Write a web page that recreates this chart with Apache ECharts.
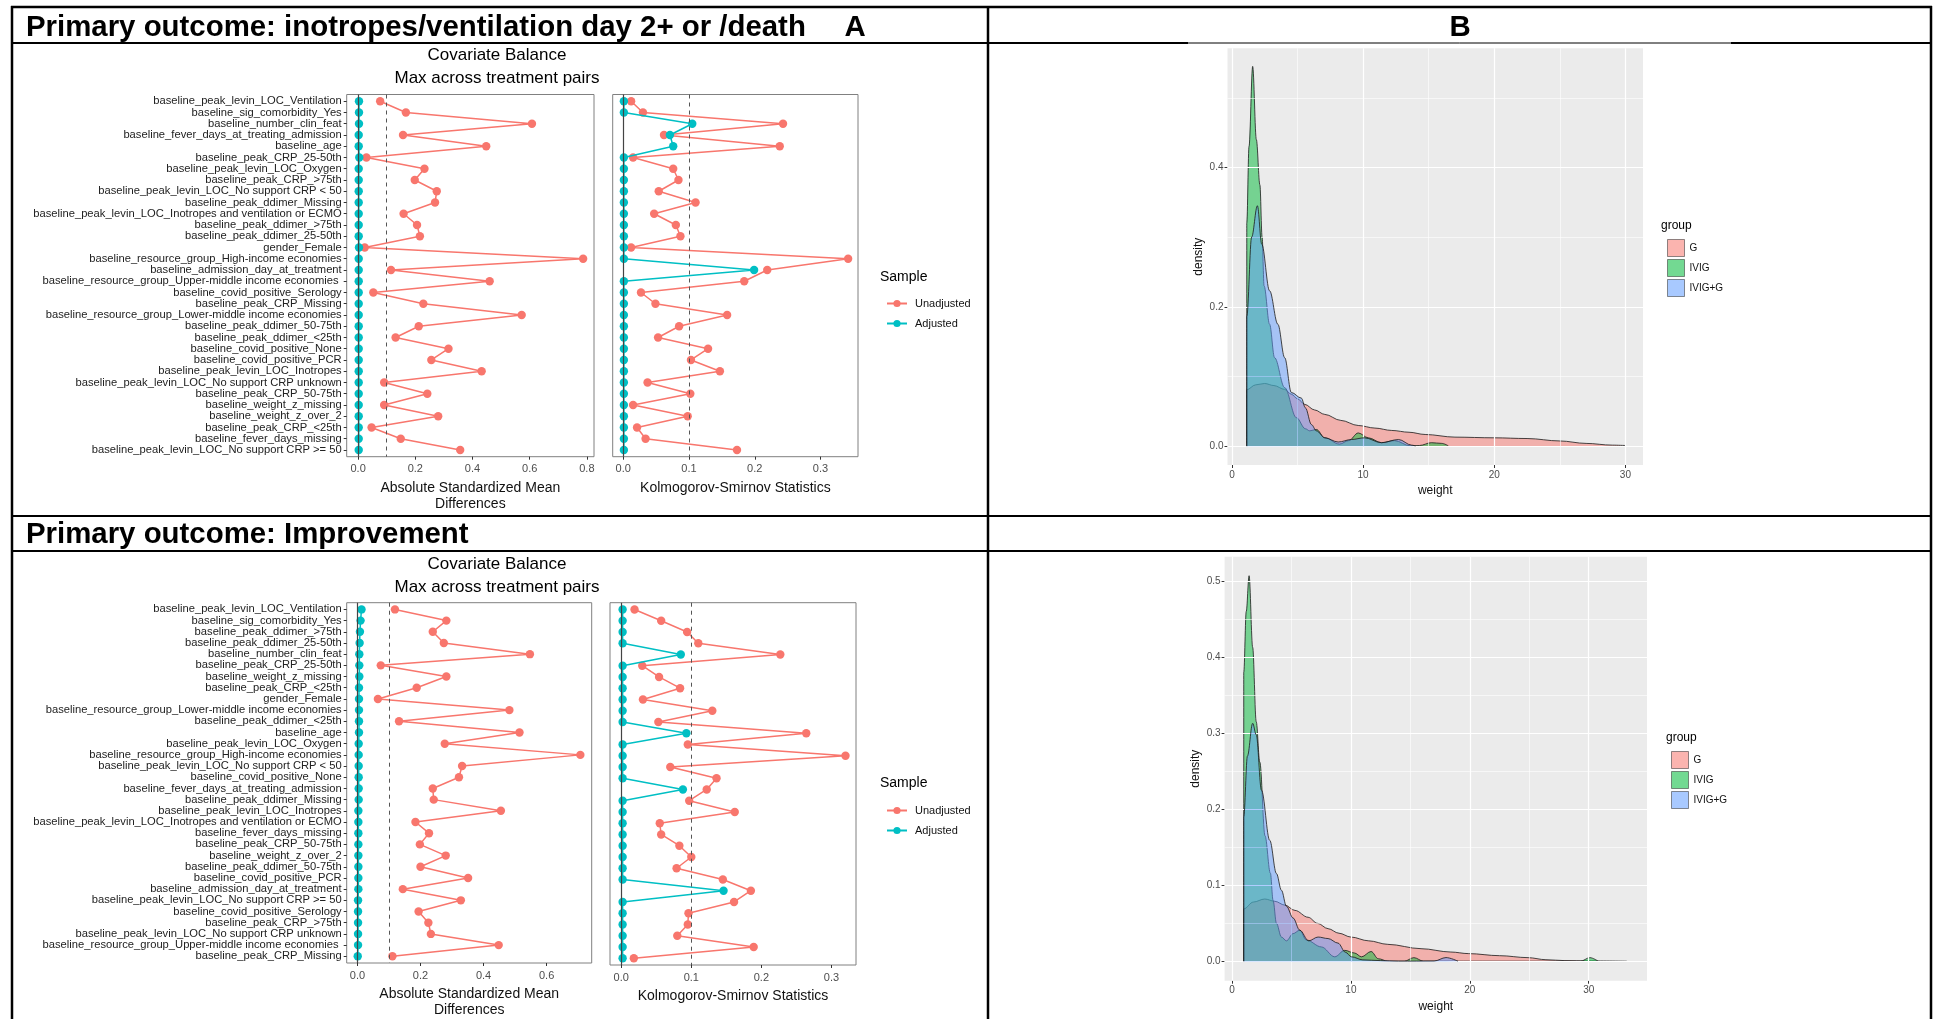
<!DOCTYPE html>
<html>
<head>
<meta charset="utf-8">
<script src="https://cdn.jsdelivr.net/npm/echarts@6/dist/echarts.min.js"></script>
<style>
html,body{margin:0;padding:0;background:#fff;}
#chart{width:1937px;height:1019px;}
</style>
</head>
<body>
<div id="chart"></div>
<script>
// ---------------- DATA ----------------
const labelsTop = [
 'baseline_peak_levin_LOC_Ventilation','baseline_sig_comorbidity_Yes','baseline_number_clin_feat',
 'baseline_fever_days_at_treating_admission','baseline_age','baseline_peak_CRP_25-50th',
 'baseline_peak_levin_LOC_Oxygen','baseline_peak_CRP_>75th','baseline_peak_levin_LOC_No support CRP < 50',
 'baseline_peak_ddimer_Missing','baseline_peak_levin_LOC_Inotropes and ventilation or ECMO',
 'baseline_peak_ddimer_>75th','baseline_peak_ddimer_25-50th','gender_Female',
 'baseline_resource_group_High-income economies','baseline_admission_day_at_treatment',
 'baseline_resource_group_Upper-middle income economies ','baseline_covid_positive_Serology',
 'baseline_peak_CRP_Missing','baseline_resource_group_Lower-middle income economies',
 'baseline_peak_ddimer_50-75th','baseline_peak_ddimer_<25th','baseline_covid_positive_None',
 'baseline_covid_positive_PCR','baseline_peak_levin_LOC_Inotropes','baseline_peak_levin_LOC_No support CRP unknown',
 'baseline_peak_CRP_50-75th','baseline_weight_z_missing','baseline_weight_z_over_2',
 'baseline_peak_CRP_<25th','baseline_fever_days_missing','baseline_peak_levin_LOC_No support CRP >= 50'];
const smdUnadjTop = [0.077,0.167,0.608,0.157,0.448,0.029,0.232,0.198,0.275,0.269,0.159,0.206,0.216,0.023,0.787,0.115,0.460,0.053,0.228,0.572,0.212,0.131,0.316,0.256,0.432,0.091,0.242,0.091,0.280,0.047,0.149,0.357];
const smdAdjTop   = [0.003,0.003,0.003,0.002,0.002,0.004,0.002,0.002,0.002,0.002,0.002,0.002,0.002,0.003,0.002,0.002,0.002,0.002,0.002,0.002,0.002,0.002,0.002,0.002,0.002,0.002,0.002,0.002,0.002,0.002,0.002,0.002];
const ksUnadjTop  = [0.012,0.030,0.243,0.062,0.238,0.015,0.076,0.084,0.054,0.110,0.047,0.080,0.087,0.012,0.342,0.219,0.184,0.027,0.049,0.158,0.085,0.053,0.129,0.103,0.147,0.037,0.102,0.015,0.098,0.021,0.034,0.173];
const ksAdjTop    = [0.001,0.001,0.105,0.071,0.076,0.001,0.001,0.001,0.001,0.001,0.001,0.001,0.001,0.001,0.001,0.199,0.001,0.001,0.001,0.001,0.001,0.001,0.001,0.001,0.001,0.001,0.001,0.001,0.001,0.001,0.001,0.001];

const labelsBot = [
 'baseline_peak_levin_LOC_Ventilation','baseline_sig_comorbidity_Yes','baseline_peak_ddimer_>75th',
 'baseline_peak_ddimer_25-50th','baseline_number_clin_feat','baseline_peak_CRP_25-50th',
 'baseline_weight_z_missing','baseline_peak_CRP_<25th','gender_Female',
 'baseline_resource_group_Lower-middle income economies','baseline_peak_ddimer_<25th','baseline_age',
 'baseline_peak_levin_LOC_Oxygen','baseline_resource_group_High-income economies',
 'baseline_peak_levin_LOC_No support CRP < 50','baseline_covid_positive_None',
 'baseline_fever_days_at_treating_admission','baseline_peak_ddimer_Missing','baseline_peak_levin_LOC_Inotropes',
 'baseline_peak_levin_LOC_Inotropes and ventilation or ECMO','baseline_fever_days_missing',
 'baseline_peak_CRP_50-75th','baseline_weight_z_over_2','baseline_peak_ddimer_50-75th',
 'baseline_covid_positive_PCR','baseline_admission_day_at_treatment','baseline_peak_levin_LOC_No support CRP >= 50',
 'baseline_covid_positive_Serology','baseline_peak_CRP_>75th','baseline_peak_levin_LOC_No support CRP unknown',
 'baseline_resource_group_Upper-middle income economies ','baseline_peak_CRP_Missing'];
const smdUnadjBot = [0.119,0.282,0.239,0.274,0.547,0.074,0.282,0.188,0.065,0.482,0.132,0.514,0.277,0.707,0.332,0.322,0.239,0.242,0.455,0.184,0.227,0.198,0.280,0.200,0.351,0.144,0.328,0.194,0.225,0.233,0.448,0.111];
const smdAdjBot   = [0.013,0.010,0.008,0.007,0.006,0.006,0.006,0.005,0.005,0.005,0.005,0.005,0.004,0.004,0.004,0.004,0.004,0.004,0.003,0.003,0.003,0.003,0.003,0.003,0.003,0.003,0.002,0.002,0.002,0.002,0.002,0.001];
const ksUnadjBot  = [0.019,0.057,0.094,0.110,0.227,0.030,0.054,0.084,0.031,0.130,0.053,0.264,0.095,0.320,0.070,0.136,0.122,0.097,0.162,0.055,0.057,0.083,0.100,0.079,0.145,0.185,0.161,0.096,0.095,0.080,0.189,0.018];
const ksAdjBot    = [0.002,0.002,0.002,0.002,0.085,0.002,0.002,0.002,0.002,0.002,0.002,0.093,0.002,0.002,0.002,0.002,0.088,0.002,0.002,0.002,0.002,0.002,0.002,0.002,0.002,0.146,0.002,0.002,0.002,0.002,0.002,0.002];

const smdTicksTop = [0, 0.2, 0.4, 0.6, 0.8];
const smdTicksBot = [0, 0.2, 0.4, 0.6];
const ksTicks = [0, 0.1, 0.2, 0.3];

// density curves: [weight, density]
const gTop = [[1.13,0],[1.13,0.081],[1.8,0.088],[2.49,0.090],[3.2,0.087],[4.02,0.0815],[4.53,0.0745],[5.0,0.068],[5.55,0.060],[6.3,0.052],[7.08,0.0456],[8.3,0.037],[9.63,0.0297],[10.9,0.026],[12.18,0.0226],[13.5,0.020],[14.73,0.0168],[17,0.013],[20,0.012],[22.5,0.011],[25,0.0075],[27,0.004],[29,0.0015],[30,0.001]];
const ivigTop = [[1.13,0],[1.13,0.32],[1.3,0.43],[1.58,0.545],[1.86,0.44],[2.13,0.375],[2.3,0.30],[2.45,0.23],[2.87,0.175],[3.25,0.127],[4.02,0.084],[4.91,0.041],[5.6,0.025],[5.93,0.022],[6.44,0.024],[7.08,0.012],[8.2,0.003],[8.9,0.008],[9.63,0.019],[10.4,0.012],[11.4,0.005],[12.4,0.008],[13.6,0.0005],[14.3,0.001],[15.2,0.005],[16,0.004],[16.5,0.0005]];
const ivigGTop = [[1.13,0],[1.13,0.186],[1.5,0.30],[1.94,0.345],[2.27,0.29],[2.87,0.223],[3.5,0.175],[4.02,0.127],[4.53,0.077],[5.29,0.069],[5.6,0.055],[6.06,0.031],[6.44,0.022],[7.08,0.012],[8.1,0.006],[9.12,0.0096],[10.1,0.012],[11.4,0.005],[12.7,0.0096],[13.7,0.0015],[14,0.0003]];
const gBot = [[0.99,0],[0.99,0.069],[1.8,0.078],[2.76,0.082],[3.6,0.079],[4.44,0.074],[5.3,0.067],[6.4,0.058],[7.2,0.050],[8.08,0.043],[9,0.037],[10,0.032],[11.5,0.027],[13.1,0.0224],[15.9,0.0167],[18.4,0.0123],[19.9,0.0102],[22.5,0.0075],[24.9,0.0049],[26.4,0.0022],[28,0.001],[30,0.0006],[33.2,0.0002]];
const ivigBot = [[0.99,0],[0.99,0.38],[1.2,0.46],[1.44,0.507],[1.74,0.413],[2.04,0.315],[2.34,0.262],[2.78,0.165],[3.23,0.116],[3.46,0.080],[3.74,0.050],[4.16,0.032],[4.58,0.027],[5.14,0.0365],[5.7,0.041],[6.26,0.028],[7.52,0.019],[8.64,0.006],[9.48,0.0145],[10.3,0.011],[10.9,0.006],[11.7,0.013],[12.3,0.0035],[13.1,0.0003],[14.5,0.0003],[15.3,0.0049],[16.1,0.0003],[29.3,0.0002],[30.1,0.0049],[30.8,0.0002]];
const ivigGBot = [[0.99,0],[0.99,0.19],[1.3,0.27],[1.74,0.313],[2.04,0.298],[2.48,0.225],[3.18,0.159],[3.74,0.1155],[4.16,0.0935],[4.58,0.0725],[5.14,0.057],[5.7,0.041],[6.45,0.027],[7.24,0.032],[8.08,0.030],[8.92,0.024],[9.54,0.012],[10.05,0.006],[11,0.002],[12.5,0.001],[14,0.0003],[17,0.0005],[18,0.005],[19,0.0003]];

const densXMajor = [0, 10, 20, 30];
const densXMinor = [5, 15, 25];
const densTopYMajor = [0, 0.2, 0.4];
const densTopYMinor = [0.1, 0.3, 0.5];
const densBotYMajor = [0, 0.1, 0.2, 0.3, 0.4, 0.5];
const densBotYMinor = [0.05, 0.15, 0.25, 0.35, 0.45];

const groups = ['G', 'IVIG', 'IVIG+G'];
const samples = ['Unadjusted', 'Adjusted'];

// ---------------- STYLE ----------------
const FONT = '"Liberation Sans", Arial, Helvetica, sans-serif';
const RED = '#F8766D', CYAN = '#00BFC4';
const GCOL = ['#F8766D', '#00BA38', '#619CFF'];

const grids = [
  {left:346.7, top:94.5, width:247.3, height:362.2},
  {left:612.7, top:94.5, width:245.3, height:362.2},
  {left:346.7, top:602.7, width:245, height:362.3},
  {left:610, top:602.7, width:246, height:362.3},
  {left:1227.5, top:48.3, width:415.5, height:416.7, show:true, backgroundColor:'#EBEBEB', borderWidth:0},
  {left:1224.6, top:556.7, width:422.4, height:424, show:true, backgroundColor:'#EBEBEB', borderWidth:0}
];
grids.slice(0,4).forEach(g => { g.show = true; g.borderColor = '#808080'; g.borderWidth = 1; g.backgroundColor = '#fff'; });

const xAxes = [], yAxes = [], series = [];

function covPanel(gi, labels, unadj, adj, xmin, xmax, ticks, showY, name) {
  const idx = labels.map((_, i) => i);
  xAxes.push({
    gridIndex: gi, type: 'value', min: xmin, max: xmax, position: 'bottom',
    axisLine: {show: false, onZero: false}, splitLine: {show: false},
    axisTick: {show: true, length: 3, lineStyle: {color: '#333'}, customValues: ticks},
    axisLabel: {customValues: ticks, formatter: v => v.toFixed(1), fontSize: 11, color: '#4D4D4D', margin: 7, fontFamily: FONT},
    name: name, nameLocation: 'middle', nameGap: 23,
    nameTextStyle: {fontSize: 14, color: '#111', lineHeight: 16, fontFamily: FONT}
  });
  yAxes.push({
    gridIndex: gi, type: 'value', inverse: true, min: -0.6, max: labels.length - 0.4, position: 'left',
    axisLine: {show: false, onZero: false}, splitLine: {show: false},
    axisTick: {show: showY, length: 3, lineStyle: {color: '#333'}, customValues: idx},
    axisLabel: {show: showY, customValues: idx, formatter: v => labels[Math.round(v)], fontSize: 11.2, color: '#222', margin: 5, fontFamily: FONT}
  });
  series.push({
    type: 'line', name: 'Unadjusted', xAxisIndex: gi, yAxisIndex: gi,
    data: unadj.map((v, i) => [v, i]), symbol: 'circle', symbolSize: 8.4,
    lineStyle: {width: 1.5, color: RED}, itemStyle: {color: RED}, z: 3,
    markLine: {silent: true, symbol: 'none', label: {show: false}, animation: false,
      data: [
        {xAxis: 0, lineStyle: {type: 'solid', color: '#444', width: 1.2}},
        {xAxis: 0.1, lineStyle: {type: [4, 4], color: '#555', width: 1}}
      ]}
  });
  series.push({
    type: 'line', name: 'Adjusted', xAxisIndex: gi, yAxisIndex: gi,
    data: adj.map((v, i) => [v, i]), symbol: 'circle', symbolSize: 8.4,
    lineStyle: {width: 1.5, color: CYAN}, itemStyle: {color: CYAN}, z: 4
  });
}

covPanel(0, labelsTop, smdUnadjTop, smdAdjTop, -0.04, 0.825, smdTicksTop, true, 'Absolute Standardized Mean\nDifferences');
covPanel(1, labelsTop, ksUnadjTop, ksAdjTop, -0.016, 0.357, ksTicks, false, 'Kolmogorov-Smirnov Statistics');
covPanel(2, labelsBot, smdUnadjBot, smdAdjBot, -0.034, 0.743, smdTicksBot, true, 'Absolute Standardized Mean\nDifferences');
covPanel(3, labelsBot, ksUnadjBot, ksAdjBot, -0.016, 0.335, ksTicks, false, 'Kolmogorov-Smirnov Statistics');

function densPanel(gi, xmin, xmax, ymin, ymax, yMajor, yMinor, curves) {
  xAxes.push({
    gridIndex: gi, type: 'value', min: xmin, max: xmax, position: 'bottom',
    axisLine: {show: false, onZero: false}, splitLine: {show: false},
    axisTick: {show: true, length: 3, lineStyle: {color: '#333'}, customValues: densXMajor},
    axisLabel: {customValues: densXMajor, formatter: v => String(v), fontSize: 10, color: '#4D4D4D', margin: 5, fontFamily: FONT},
    name: 'weight', nameLocation: 'middle', nameGap: 20,
    nameTextStyle: {fontSize: 12, color: '#111', fontFamily: FONT}
  });
  yAxes.push({
    gridIndex: gi, type: 'value', min: ymin, max: ymax, position: 'left',
    axisLine: {show: false, onZero: false}, splitLine: {show: false},
    axisTick: {show: true, length: 3, lineStyle: {color: '#333'}, customValues: yMajor},
    axisLabel: {customValues: yMajor, formatter: v => v.toFixed(1), fontSize: 10, color: '#4D4D4D', margin: 4, fontFamily: FONT},
    name: 'density', nameLocation: 'middle', nameGap: 23,
    nameTextStyle: {fontSize: 12, color: '#111', fontFamily: FONT}
  });
  const ml = [];
  densXMinor.forEach(v => ml.push({xAxis: v, lineStyle: {color: '#fff', width: 0.6, type: 'solid'}}));
  yMinor.forEach(v => ml.push({yAxis: v, lineStyle: {color: '#fff', width: 0.6, type: 'solid'}}));
  densXMajor.forEach(v => ml.push({xAxis: v, lineStyle: {color: '#fff', width: 1.2, type: 'solid'}}));
  yMajor.forEach(v => ml.push({yAxis: v, lineStyle: {color: '#fff', width: 1.2, type: 'solid'}}));
  series.push({
    type: 'line', name: '__grid' + gi, xAxisIndex: gi, yAxisIndex: gi, data: [], z: 1, silent: true,
    markLine: {silent: true, symbol: 'none', label: {show: false}, animation: false, data: ml}
  });
  curves.forEach((c, k) => {
    series.push({
      type: 'line', name: groups[k], xAxisIndex: gi, yAxisIndex: gi, data: c,
      smooth: 0.35, smoothMonotone: 'x', symbol: 'none', z: 3 + k,
      lineStyle: {color: '#1a1a1a', width: 0.8},
      itemStyle: {color: GCOL[k]},
      areaStyle: {color: GCOL[k], opacity: 0.5}
    });
  });
}

densPanel(4, -0.34, 31.34, -0.027, 0.571, densTopYMajor, densTopYMinor, [gTop, ivigTop, ivigGTop]);
densPanel(5, -0.62, 34.9, -0.0254, 0.532, densBotYMajor, densBotYMinor, [gBot, ivigBot, ivigGBot]);

function covLegend(top) {
  return {
    data: samples, orient: 'vertical', left: 881, top: top, itemWidth: 20, itemHeight: 9, itemGap: 9,
    textStyle: {fontSize: 11, color: '#111', fontFamily: FONT, padding: [0, 0, 0, 3]},
    selectedMode: false
  };
}
function densLegend(left, top) {
  return {
    data: groups.map((g, k) => ({name: g, icon: 'rect', itemStyle: {color: GCOL[k], opacity: 0.55, borderColor: '#333', borderWidth: 1}})),
    orient: 'vertical', left: left, top: top, itemWidth: 17, itemHeight: 17, itemGap: 2,
    textStyle: {fontSize: 10, color: '#111', fontFamily: FONT},
    selectedMode: false
  };
}

function txt(x, y, text, font, align) {
  return {type: 'text', x: x, y: y, silent: true,
    style: {text: text, font: font, fill: '#000', align: align || 'left', verticalAlign: 'middle'}};
}
function hline(x1, x2, y, w) {
  return {type: 'line', silent: true, shape: {x1: x1, y1: y, x2: x2, y2: y}, style: {stroke: '#000', lineWidth: w}};
}
function vline(x, y1, y2, w) {
  return {type: 'line', silent: true, shape: {x1: x, y1: y1, x2: x, y2: y2}, style: {stroke: '#000', lineWidth: w}};
}

const HFONT = 'bold 29.4px ' + FONT;
const TFONT = '17px ' + FONT;
const graphics = [
  hline(11, 1932, 7, 2.5),
  hline(11, 1188, 43, 2.2), hline(1188, 1731, 43, 1), hline(1731, 1932, 43, 2.2),
  hline(11, 1932, 516, 2.2),
  hline(11, 1932, 551, 2.2),
  vline(12, 6, 1019, 2.5),
  vline(988, 6, 1019, 2.5),
  vline(1931, 6, 1019, 2.5),
  txt(26, 28, 'Primary outcome: inotropes/ventilation day 2+ or /death', HFONT),
  txt(855, 28, 'A', HFONT, 'center'),
  txt(1460, 28, 'B', HFONT, 'center'),
  txt(26, 535, 'Primary outcome: Improvement', HFONT),
  txt(497, 55.5, 'Covariate Balance', TFONT, 'center'),
  txt(497, 78, 'Max across treatment pairs', TFONT, 'center'),
  txt(497, 564.5, 'Covariate Balance', TFONT, 'center'),
  txt(497, 587, 'Max across treatment pairs', TFONT, 'center'),
  txt(880, 277, 'Sample', '14px ' + FONT),
  txt(880, 783, 'Sample', '14px ' + FONT),
  txt(1661, 226, 'group', '12px ' + FONT),
  txt(1666, 738, 'group', '12px ' + FONT)
];

const chart = echarts.init(document.getElementById('chart'), null, {renderer: 'canvas'});
chart.setOption({
  animation: false,
  backgroundColor: '#fff',
  textStyle: {fontFamily: FONT},
  grid: grids,
  xAxis: xAxes,
  yAxis: yAxes,
  series: series,
  legend: [covLegend(293), covLegend(800), densLegend(1662, 234), densLegend(1666, 746)],
  graphic: graphics
});
</script>
</body>
</html>
